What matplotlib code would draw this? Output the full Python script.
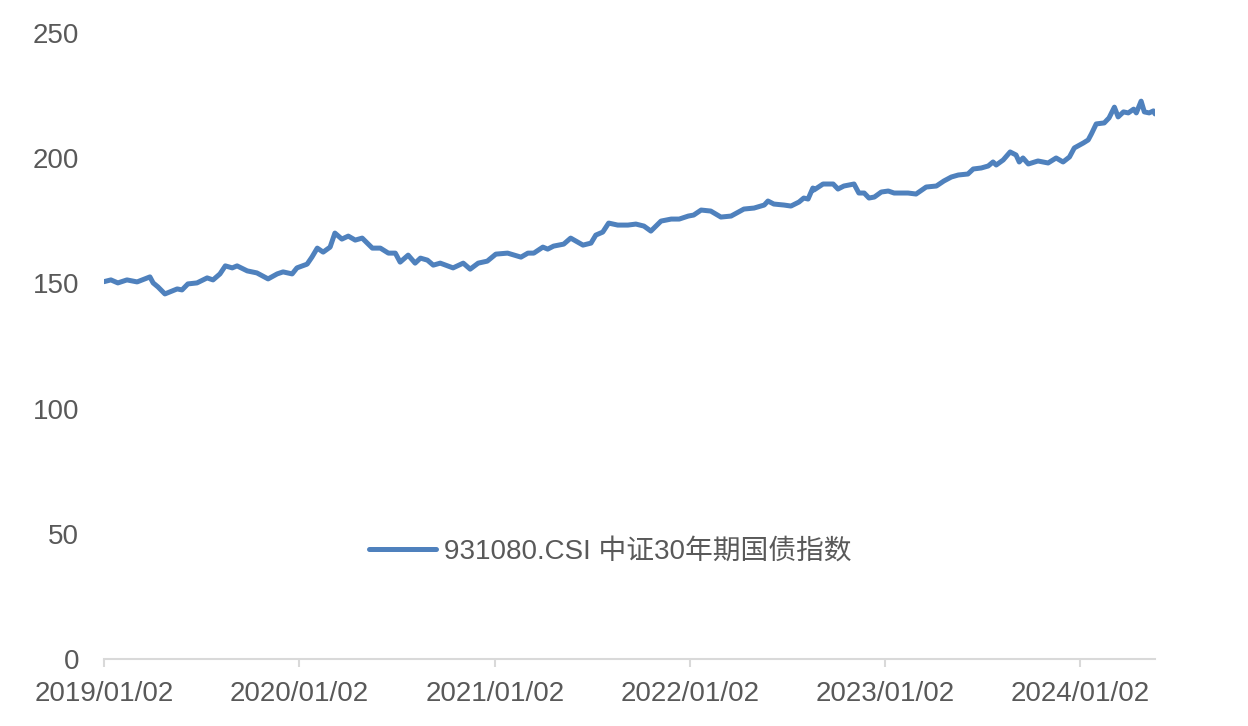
import matplotlib
matplotlib.use('Agg')
import matplotlib.pyplot as plt
import pandas as pd

plt.rcParams['font.family'] = ['Liberation Sans', 'Noto Sans CJK SC', 'DejaVu Sans']
plt.rcParams['axes.unicode_minus'] = False

# 数据
dates = [
    '2019-01-02', '2019-01-15', '2019-01-28', '2019-02-14', '2019-03-05', '2019-03-29',
    '2019-04-04', '2019-04-13', '2019-04-26', '2019-05-19', '2019-05-28', '2019-06-08',
    '2019-06-25', '2019-07-14', '2019-07-25', '2019-08-07', '2019-08-17', '2019-08-30',
    '2019-09-08', '2019-09-27', '2019-10-15', '2019-11-05', '2019-11-22', '2019-12-03',
    '2019-12-20', '2019-12-29', '2020-01-17', '2020-01-26', '2020-02-05', '2020-02-16',
    '2020-02-29', '2020-03-09', '2020-03-22', '2020-04-03', '2020-04-16', '2020-04-29',
    '2020-05-18', '2020-06-02', '2020-06-17', '2020-06-30', '2020-07-09', '2020-07-24',
    '2020-08-06', '2020-08-16', '2020-08-29', '2020-09-09', '2020-09-22', '2020-10-16',
    '2020-11-04', '2020-11-17', '2020-12-02', '2020-12-19', '2021-01-04', '2021-01-26',
    '2021-02-20', '2021-03-05', '2021-03-16', '2021-04-02', '2021-04-11', '2021-04-22',
    '2021-05-11', '2021-05-24', '2021-06-16', '2021-07-01', '2021-07-10', '2021-07-23',
    '2021-08-03', '2021-08-20', '2021-09-08', '2021-09-23', '2021-10-08', '2021-10-21',
    '2021-11-09', '2021-11-28', '2021-12-13', '2021-12-30', '2022-01-09', '2022-01-23',
    '2022-02-10', '2022-03-01', '2022-03-20', '2022-04-13', '2022-05-02', '2022-05-21',
    '2022-05-28', '2022-06-08', '2022-06-27', '2022-07-10', '2022-07-25', '2022-08-03',
    '2022-08-11', '2022-08-20', '2022-08-22', '2022-09-08', '2022-09-27', '2022-10-06',
    '2022-10-17', '2022-11-05', '2022-11-14', '2022-11-24', '2022-12-03', '2022-12-13',
    '2022-12-26', '2023-01-08', '2023-01-19', '2023-02-14', '2023-03-01', '2023-03-20',
    '2023-04-08', '2023-04-22', '2023-05-06', '2023-05-19', '2023-06-06', '2023-06-16',
    '2023-07-01', '2023-07-14', '2023-07-23', '2023-07-29', '2023-08-11', '2023-08-24',
    '2023-09-04', '2023-09-10', '2023-09-17', '2023-09-27', '2023-10-15', '2023-11-03',
    '2023-11-18', '2023-12-01', '2023-12-13', '2023-12-22', '2024-01-08', '2024-01-17',
    '2024-01-23', '2024-02-01', '2024-02-16', '2024-02-25', '2024-03-06', '2024-03-13',
    '2024-03-23', '2024-04-01', '2024-04-11', '2024-04-16', '2024-04-25', '2024-05-01',
    '2024-05-10', '2024-05-18', '2024-05-21',
]
index_values = [
    150.7, 151.4, 150.2, 151.4, 150.6, 152.6,
    150.2, 148.6, 145.8, 147.8, 147.4, 149.8,
    150.2, 152.2, 151.4, 153.8, 157.0, 156.2,
    157.0, 155.0, 154.2, 151.8, 153.8, 154.6,
    153.8, 156.2, 157.7, 160.5, 164.1, 162.5,
    164.5, 170.1, 167.7, 168.9, 167.3, 168.1,
    164.1, 164.1, 162.1, 162.1, 158.5, 161.3,
    158.1, 160.1, 159.3, 157.3, 158.1, 156.2,
    158.1, 155.7, 158.1, 158.9, 161.7, 162.1,
    160.5, 162.1, 162.1, 164.5, 163.7, 164.9,
    165.7, 168.1, 165.3, 166.1, 169.3, 170.5,
    174.1, 173.3, 173.3, 173.7, 172.9, 170.9,
    174.9, 175.7, 175.7, 176.9, 177.3, 179.3,
    178.9, 176.5, 176.9, 179.7, 180.1, 181.3,
    182.9, 181.7, 181.3, 180.9, 182.5, 184.1,
    183.7, 188.1, 187.3, 189.7, 189.7, 187.7,
    188.9, 189.7, 186.1, 186.1, 184.1, 184.5,
    186.5, 186.9, 186.1, 186.1, 185.7, 188.5,
    188.9, 190.9, 192.5, 193.3, 193.7, 195.7,
    196.1, 196.9, 198.5, 197.3, 199.3, 202.5,
    201.3, 198.5, 200.1, 197.7, 198.9, 198.1,
    200.1, 198.5, 200.5, 204.1, 206.1, 207.3,
    209.7, 213.7, 214.1, 216.1, 220.4, 216.5,
    218.5, 218.1, 219.6, 218.1, 222.8, 218.5,
    218.1, 218.9, 217.7,
]
tick_dates = ['2019-01-02', '2020-01-02', '2021-01-02', '2022-01-02', '2023-01-02', '2024-01-02']
tick_labels = ['2019/01/02', '2020/01/02', '2021/01/02', '2022/01/02', '2023/01/02', '2024/01/02']
series_name = '931080.CSI 中证30年期国债指数'

x = pd.to_datetime(dates)

fig = plt.figure(figsize=(12.48, 7.26), dpi=100)
ax = fig.add_axes([0.0833, 0.0923, 0.8422, 0.8622])

ax.plot(x, index_values, color='#4F81BD', linewidth=3.6, label=series_name,
        solid_joinstyle='round', solid_capstyle='round')

ax.set_xlim(pd.Timestamp('2019-01-02'), pd.Timestamp('2024-05-21'))
ax.set_ylim(0, 250)
ax.set_yticks([0, 50, 100, 150, 200, 250])
ax.set_xticks(pd.to_datetime(tick_dates))
ax.set_xticklabels(tick_labels)

for s in ['top', 'right', 'left']:
    ax.spines[s].set_visible(False)
ax.spines['bottom'].set_color('#d9d9d9')
ax.spines['bottom'].set_linewidth(1.5)

ax.tick_params(axis='x', colors='#d9d9d9', length=6, width=1.5, labelcolor='#595959',
               labelsize=20, pad=10)
ax.tick_params(axis='y', length=0, labelcolor='#595959', labelsize=20, pad=18)

leg = ax.legend(loc='center', bbox_to_anchor=(0.482, 0.171), frameon=False,
                fontsize=20, handlelength=2.4, handletextpad=0.3)
for t in leg.get_texts():
    t.set_color('#595959')

plt.savefig('out.png', dpi=100)
